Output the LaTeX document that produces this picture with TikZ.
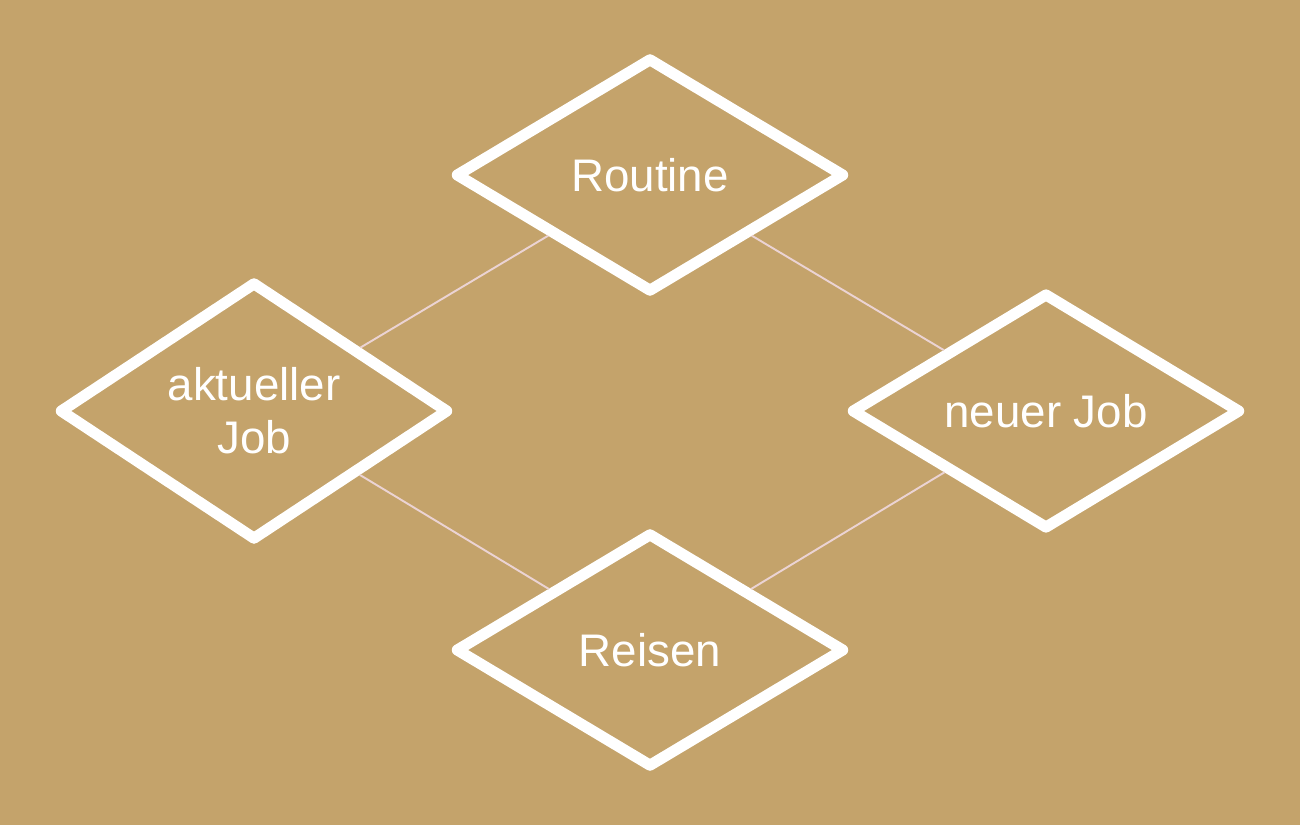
\documentclass[tikz,border=0pt]{standalone}
\usepackage{fontspec}
\setmainfont{Liberation Sans}
\usetikzlibrary{shapes.geometric}
\newcommand{\bgcolor}{tanbg}
\definecolor{tanbg}{HTML}{C4A36B}
\definecolor{linkpink}{HTML}{EBD3D3}

\begin{document}
\begin{tikzpicture}[
    topic/.style={diamond, draw=white, line width=6.3pt, line join=round,
        inner sep=0pt, minimum width=7.8cm, minimum height=4.7cm, text=white,
        align=center, font=\fontsize{26}{30}\selectfont},
    link/.style={draw=linkpink, line width=1.1pt}]
        \fill[\bgcolor] (0, 0) rectangle (26, -16.5);
        \node[topic] (routine) at (13, -3.5) {Routine};
        \node[topic] (aktuell) at (5.08, -8.22) {aktueller\\Job};
        \node[topic] (neu) at (20.92, -8.22) {neuer Job};
        \node[topic] (reisen) at (13, -13) {Reisen};
        % connect the four topics
        \draw[link] (routine) -- (aktuell);
        \draw[link] (routine) -- (neu);
        \draw[link] (reisen) -- (aktuell);
        \draw[link] (reisen) -- (neu);
    \end{tikzpicture}
\end{document}
